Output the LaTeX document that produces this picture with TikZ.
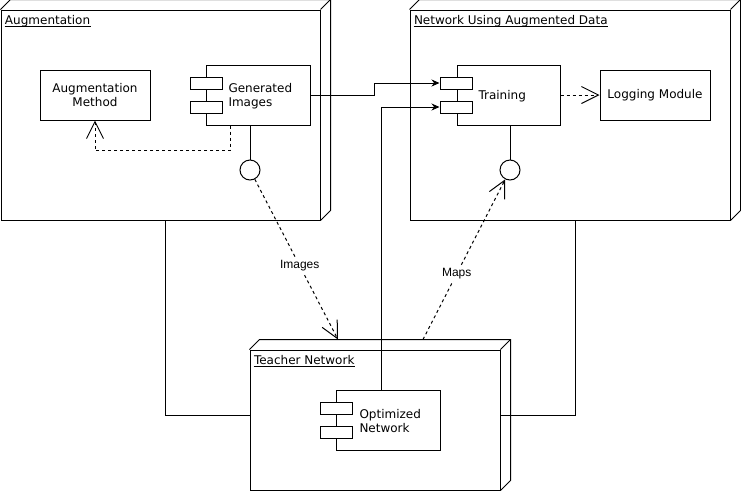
\documentclass[tikz,border=0pt]{standalone}
\usepackage{fontspec}
\setmainfont{DejaVu Sans}
\newfontfamily\lblfont{Liberation Sans}
\usetikzlibrary{arrows.meta,calc}
\begin{document}
\begin{tikzpicture}[x=1pt,y=-1pt,line width=1pt,
  every node/.style={font=\fontsize{12}{14}\selectfont},
  front/.style={draw,rectangle,inner sep=0pt},
  plainbox/.style={draw,rectangle,inner sep=0pt,minimum width=110,minimum height=50,align=center},
  body/.style={draw,rectangle,inner sep=0pt,minimum width=104,minimum height=60},
  port/.style={draw,fill=white,rectangle,inner sep=0pt,minimum width=32,minimum height=12},
  ctext/.style={inner sep=0pt,anchor=west,align=left},
  lolli/.style={draw,circle,inner sep=0pt,minimum size=20},
  title/.style={inner sep=0pt,anchor=base west},
  conn/.style={-{Stealth[length=8,width=7]}},
  dep/.style={dash pattern=on 3pt off 3pt,-{Straight Barb[length=17,width=17]}},
  elabel/.style={fill=white,inner sep=2pt,font=\lblfont\fontsize{12}{14}\selectfont}
]
\useasboundingbox (0,0) rectangle (741,491);

% 3D nodes
\node[front,minimum width=319,minimum height=210] (aug) at (160.5,115) {};
\node[front,minimum width=320,minimum height=210] (net) at (570,115) {};
\node[front,minimum width=250,minimum height=140] (tch) at (375,420) {};
\foreach \n in {aug,net,tch}{
  \draw (\n.north west) -- ++(10,-10) -- ([shift={(10,-10)}]\n.north east)
        -- ([shift={(10,-10)}]\n.south east) -- (\n.south east);
  \draw (\n.north east) -- ++(10,-10);
}
\node[title] (augT) at ([shift={(4,15)}]aug.north west) {Augmentation};
\node[title] (netT) at ([shift={(4,15)}]net.north west) {Network Using Augmented Data};
\node[title] (tchT) at ([shift={(4,15)}]tch.north west) {Teacher Network};
\foreach \t in {augT,netT,tchT}{
  \draw[line width=0.8pt] ([yshift=-2]\t.base west) -- ([yshift=-2]\t.base east);
}

% Augmentation contents
\node[plainbox] (am) at (95,95) {Augmentation\\Method};
\node[body] (gen) at (258,95) {};
\node[port] (gp1) at (206,83) {};
\node[port] (gp2) at (206,107) {};
\node[ctext] (genT) at (228,96.5) {Generated\\Images};
\node[lolli] (c1) at (250,170) {};
\draw (gen.south -| c1) -- (c1);

% Network contents
\node[body,minimum width=103] (tr) at (508.5,95) {};
\node[port] (tp1) at (456,83) {};
\node[port] (tp2) at (456,107) {};
\node[ctext] (trT) at (478,96.5) {Training};
\node[plainbox] (log) at (655,95) {Logging Module};
\node[lolli] (c2) at (510,170) {};
\draw (tr.south -| c2) -- (c2);

% Teacher contents
\node[body] (opt) at (388,420) {};
\node[port] (op1) at (336,408) {};
\node[port] (op2) at (336,432) {};
\node[ctext] (optT) at (359,421.5) {Optimized\\Network};

% connectors
\draw[dep] ([xshift=-28]gen.south) |- ++(0,25) -| (am.south);
\draw[dep] (tr.east) -- (log.west);
\draw[conn] (gen.east) -| ([xshift=-65]tp1.west) -- (tp1.west);
\draw[conn] ([xshift=-7]opt.north) |- (tp2.west);
\draw ([xshift=5]aug.south) |- ([yshift=5]tch.west);
\draw ([xshift=5]net.south) |- ([yshift=5]tch.east);
\coordinate (tchIn) at ([shift={(-37,-10)}]tch.north);
\coordinate (tchOut) at ([shift={(48,-10)}]tch.north);
\draw[dep] (c1) -- node[elabel,pos=0.54] (imgL) {Images} (tchIn);
\draw[dep] (tchOut) -- node[elabel,pos=0.41] (mapL) {Maps} (c2);
\end{tikzpicture}
\end{document}
